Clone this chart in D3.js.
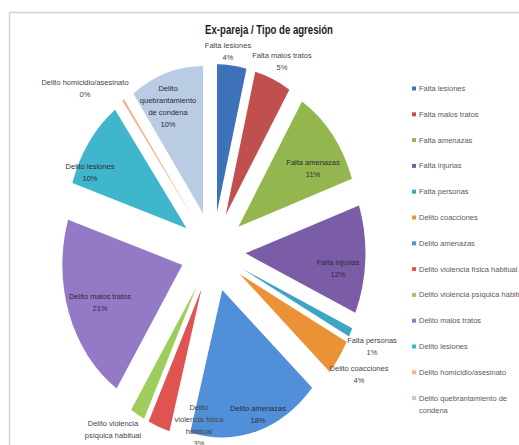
<!DOCTYPE html>
<html><head><meta charset="utf-8">
<script src="https://cdn.jsdelivr.net/npm/d3@7"></script>
<style>
html,body{margin:0;padding:0;background:#fff;}
text{font-family:"Liberation Sans Narrow","Arial Narrow","Liberation Sans",sans-serif;}
</style></head>
<body><svg id="c" width="519" height="445"></svg>
<script>
const title = "Ex-pareja / Tipo de agresión";
const categories = ["Falta lesiones","Falta malos tratos","Falta amenazas","Falta injurias","Falta personas","Delito coacciones","Delito amenazas","Delito violencia física habitual","Delito violencia psíquica habitual","Delito malos tratos","Delito lesiones","Delito homicidio/asesinato","Delito quebrantamiento de condena"];
const values = [4,5,11,12,1,4,18,3,2,21,10,0.3,10];
const colors = ["#3d72b8","#c0504d","#93b64f","#7b5ca6","#3ca6c2","#ec9236","#5190d8","#df5450","#9fcd5c","#9479c6","#40b6cc","#f6b48c","#b9cce4"];
// label text lines (as printed in the chart)
const labelLines = [["Falta lesiones"],["Falta malos tratos"],["Falta amenazas"],["Falta injurias"],["Falta personas"],["Delito coacciones"],["Delito amenazas"],["Delito","violencia física","habitual"],["Delito violencia","psíquica habitual"],["Delito malos tratos"],["Delito lesiones"],["Delito homicidio/asesinato"],["Delito","quebrantamiento","de condena"]];
const legendLines = [["Falta lesiones"],["Falta malos tratos"],["Falta amenazas"],["Falta injurias"],["Falta personas"],["Delito coacciones"],["Delito amenazas"],["Delito violencia física habitual"],["Delito violencia psíquica habitual"],["Delito malos tratos"],["Delito lesiones"],["Delito homicidio/asesinato"],["Delito quebrantamiento de","condena"]];

const svg = d3.select("#c");
// chart frame
svg.append("rect").attr("x",9.5).attr("y",12.5).attr("width",530).attr("height",450)
  .attr("fill","#fff").attr("stroke","#d2d2d2").attr("stroke-width",1.5);

svg.append("text").attr("transform","translate(269,34) scale(0.8,1)").attr("text-anchor","middle")
  .attr("font-size",12).attr("font-weight","bold").attr("fill","#1e1e1e").text(title);

const cx = 213, cy = 251.6, R = 120, sy = 1.23, explode = 32.5;
const total = d3.sum(values);
const pie = d3.pie().sort(null).value(d=>d);
const arcs = pie(values);
const arc = d3.arc().innerRadius(0).outerRadius(R);

const g = svg.append("g").attr("transform",`translate(${cx},${cy}) scale(1,${sy})`);
g.selectAll("path").data(arcs).join("path")
  .attr("d",arc)
  .attr("fill",(d,i)=>colors[i])
  .attr("transform",d=>{
    const a=(d.startAngle+d.endAngle)/2;
    return `translate(${explode*Math.sin(a)},${-explode*Math.cos(a)})`;
  });

// data labels: position [x,y] of first line centre, inside flag
const labelPos = [[228,48,0],[282,58,0],[313,165,1],[338,265,1],[372,343,0],[359,371,0],[258,411,1],[199,410,0],[113,426,0],[100,299,1],[90,169,1],[85,85,0],[168,91,1]];
const lab = svg.append("g");
arcs.forEach((d,i)=>{
  const pct = Math.round(d.data/total*100)+"%";
  const lines = labelLines[i].concat([pct]);
  const [x,y,inside] = labelPos[i];
  const t = lab.append("text").attr("text-anchor","middle").attr("font-size",7.5)
    .attr("fill", inside ? "#2b2b3b" : "#454545");
  lines.forEach((l,j)=>t.append("tspan").attr("x",x).attr("y",y+j*12).text(l));
});

// legend
const leg = svg.append("g");
categories.forEach((c,i)=>{
  const y = 91 + i*25.8;
  leg.append("rect").attr("x",412).attr("y",y-4.5).attr("width",4).attr("height",4).attr("fill",colors[i]);
  const t = leg.append("text").attr("font-size",7.5).attr("fill","#5a5a5a");
  legendLines[i].forEach((l,j)=>t.append("tspan").attr("x",419).attr("y",y+j*12).text(l));
});
</script></body></html>
